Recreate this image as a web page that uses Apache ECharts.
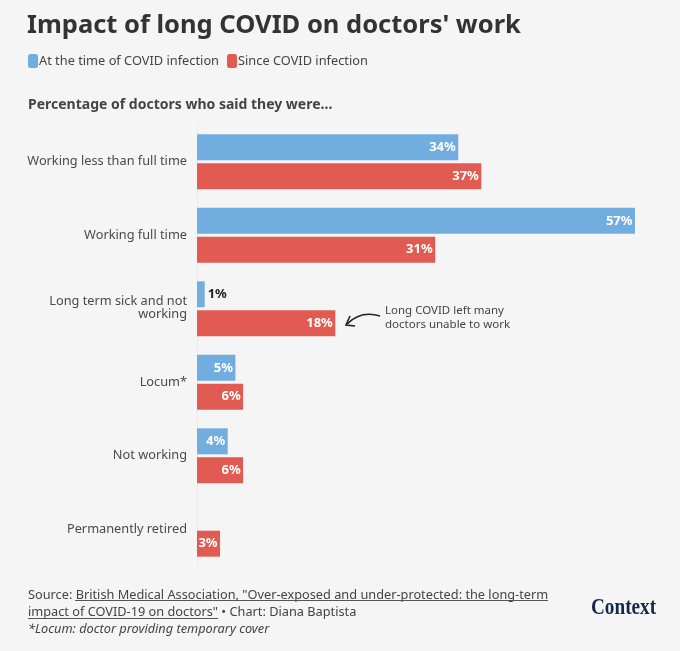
<!DOCTYPE html>
<html><head><meta charset="utf-8">
<style>html,body{margin:0;padding:0;background:#f5f5f5}#c{width:680px;height:651px}</style>
<script src="https://cdn.jsdelivr.net/npm/echarts@6/dist/echarts.min.js"></script>
</head><body><div id="c"></div>
<script>
const categories = ["Working less than full time","Working full time","Long term sick and not\nworking","Locum*","Not working","Permanently retired"];
const atTimeValues = [34,57,1,5,4,null];
const sinceValues = [37,31,18,6,6,3];
const seriesNames = ["At the time of COVID infection","Since COVID infection"];
const F = '"Noto Sans", sans-serif';
const chart = echarts.init(document.getElementById('c'), null, {renderer:'canvas'});
function barLabel(p){return p.value==null?'':p.value+'%';}
function txt(x,y,text,size,color,weight,style){
  return {type:'text',x:x,y:y,silent:true,style:{text:text,font:(style||'normal')+' '+(weight||400)+' '+size+'px '+F,fill:color}};
}
function rule(x1,x2,y){return {type:'line',silent:true,shape:{x1:x1,y1:y,x2:x2,y2:y},style:{stroke:'#555',lineWidth:1}};}
chart.setOption({
  animation:false,
  backgroundColor:'#f5f5f5',
  textStyle:{fontFamily:F},
  legend:{left:23,top:54,itemWidth:10,itemHeight:14,itemGap:8,icon:'roundRect',
    selectedMode:false,padding:[0,5],
    textStyle:{fontSize:12.8,color:'#444',fontFamily:F,padding:[0,0,0,-4]},data:seriesNames},
  grid:{left:197,width:438,top:125,height:441},
  xAxis:{type:'value',min:0,max:57,show:false},
  yAxis:{type:'category',inverse:true,data:categories,
    axisLine:{show:true,lineStyle:{color:'#ebebeb',width:1}},axisTick:{show:false},
    axisLabel:{margin:10,fontSize:12.75,color:'#4a4a4a',fontFamily:F,lineHeight:14,align:'right',
      formatter:function(v){
        var p=v.split('\n');
        return p.length>1?'{m|'+p[0]+'}\n{n|'+p[1]+'}':v;
      },
      rich:{m:{fontSize:12.75,color:'#4a4a4a',fontFamily:F,lineHeight:14,align:'right'},
            n:{fontSize:12.75,color:'#4a4a4a',fontFamily:F,lineHeight:14,align:'right',padding:[0,0,3,0]}}}},
  series:[
    {name:seriesNames[0],type:'bar',barWidth:26,barGap:'11%',
     data:atTimeValues.map(function(v){return v===1?{value:v,label:{position:'right',color:'#222',distance:3}}:v;}),
     itemStyle:{color:'#72ade0'},
     label:{show:true,position:'insideRight',distance:2.5,formatter:barLabel,fontSize:13,fontWeight:700,color:'#fff',fontFamily:F}},
    {name:seriesNames[1],type:'bar',data:sinceValues,barWidth:26,
     itemStyle:{color:'#e25b52'},
     label:{show:true,position:'insideRight',distance:2.5,formatter:barLabel,fontSize:13,fontWeight:700,color:'#fff',fontFamily:F}}
  ],
  graphic:[
    txt(27,13,"Impact of long COVID on doctors' work",25.5,'#333',700),
    txt(28,98,"Percentage of doctors who said they were...",14,'#444',700),
    txt(385,305,"Long COVID left many",11.5,'#444'),
    txt(385,319,"doctors unable to work",11.5,'#444'),
    {type:'bezierCurve',silent:true,shape:{x1:380,y1:316,cpx1:367,cpy1:312,cpx2:356,cpy2:315,x2:347,y2:324},style:{stroke:'#222',lineWidth:1.6,fill:'none'}},
    {type:'polyline',silent:true,shape:{points:[[350,316],[346,325],[355,326]]},style:{stroke:'#222',lineWidth:1.6,fill:'none'}},
    txt(28,589,"Source: British Medical Association, \"Over-exposed and under-protected: the long-term",12.75,'#444'),
    txt(28,606,"impact of COVID-19 on doctors\" • Chart: Diana Baptista",12.75,'#444'),
    txt(28,623,"*Locum: doctor providing temporary cover",12.75,'#444',400,'italic'),
    rule(75,548,600.5),rule(28,218,618.5),
    {type:'text',silent:true,x:591,y:596,scaleX:0.8,style:{text:'Context',font:'700 24px "Liberation Serif", serif',fill:'#13294b'}}
  ]
});
</script></body></html>
